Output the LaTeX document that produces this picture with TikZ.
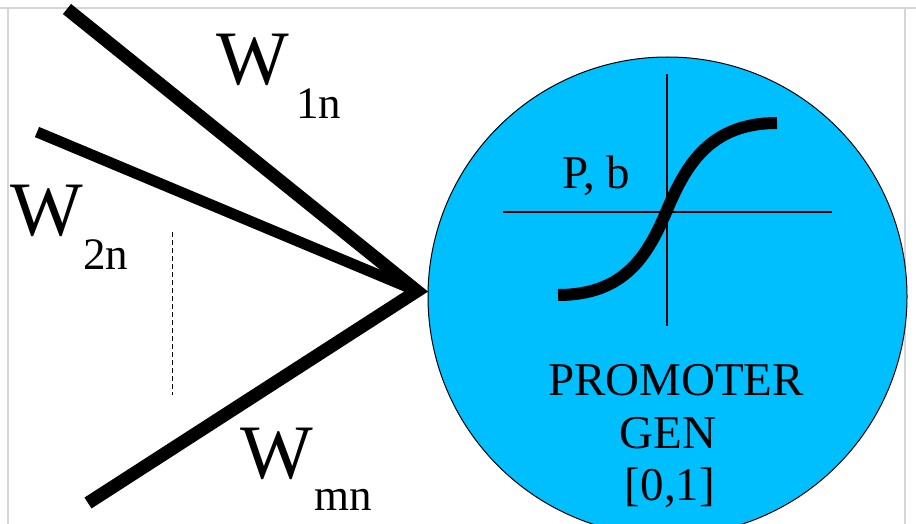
\documentclass[tikz,border=0pt]{standalone}
\usepackage{fontspec}
\setmainfont{Liberation Serif}
\definecolor{gencyan}{RGB}{0,191,255}
\definecolor{framegray}{RGB}{214,214,214}
\begin{document}
\begin{tikzpicture}[x=1pt,y=-1pt,
  weightline/.style={line width=13pt,line join=miter,miter limit=10},
  bigW/.style={anchor=base west,inner sep=0pt,font=\fontsize{77}{80}\selectfont},
  sub/.style={anchor=base west,inner sep=0pt,font=\fontsize{45}{50}\selectfont},
  lbl/.style={anchor=base,inner sep=0pt,font=\fontsize{47}{52}\selectfont},
  framel/.style={draw=framegray,line width=2pt},
  axis/.style={line width=1.3pt}
]
\useasboundingbox (0,0) rectangle (916,524);
\draw[framel] (0,8) -- (916,8);
\draw[framel] (8,8) -- (8,524);
\draw[framel] (905,8) -- (905,524);
\node[circle,draw=black,line width=1pt,fill=gencyan,minimum size=479pt,inner sep=0pt] (gene) at (667.5,296.5) {};
% axes
\coordinate (ax1) at (667,74);
\coordinate (ax2) at (667,326);
\coordinate (ay1) at (503,212);
\coordinate (ay2) at (832,212);
\draw[axis] (ax1) -- (ax2);
\draw[axis] (ay1) -- (ay2);
% sigmoid
\draw[line width=12pt] (558,295) .. controls (625,295) and (648,255) .. (667,210) .. controls (686,165) and (710,123) .. (777,123);
% weight lines
\coordinate (apex) at (417,291);
\coordinate (s1) at (67,9);
\coordinate (s2) at (37,132);
\coordinate (s3) at (88,503);
\draw[line width=11pt] (s2) -- (apex);
\draw[weightline] (s1) -- (apex) -- (s3);
\draw[line width=1pt,dash pattern=on 5pt off 3pt] (172,232) -- (172,395);
% labels
\node[bigW] (w1) at (216,85) {W};
\node[sub] (w1s) at (296,119) {1n};
\node[bigW] (w2) at (10,235) {W};
\node[sub] (w2s) at (83,269) {2n};
\node[bigW] (wm) at (240,478) {W};
\node[sub] (wms) at (314,510) {mn};
\node[lbl] (pb) at (596,189) {P, b};
\node[lbl] (prom) at (676,395) {PROMOTER};
\node[lbl] (gen) at (668,448) {GEN};
\node[lbl] (rng) at (670,500) {[0,1]};
\end{tikzpicture}
\end{document}
